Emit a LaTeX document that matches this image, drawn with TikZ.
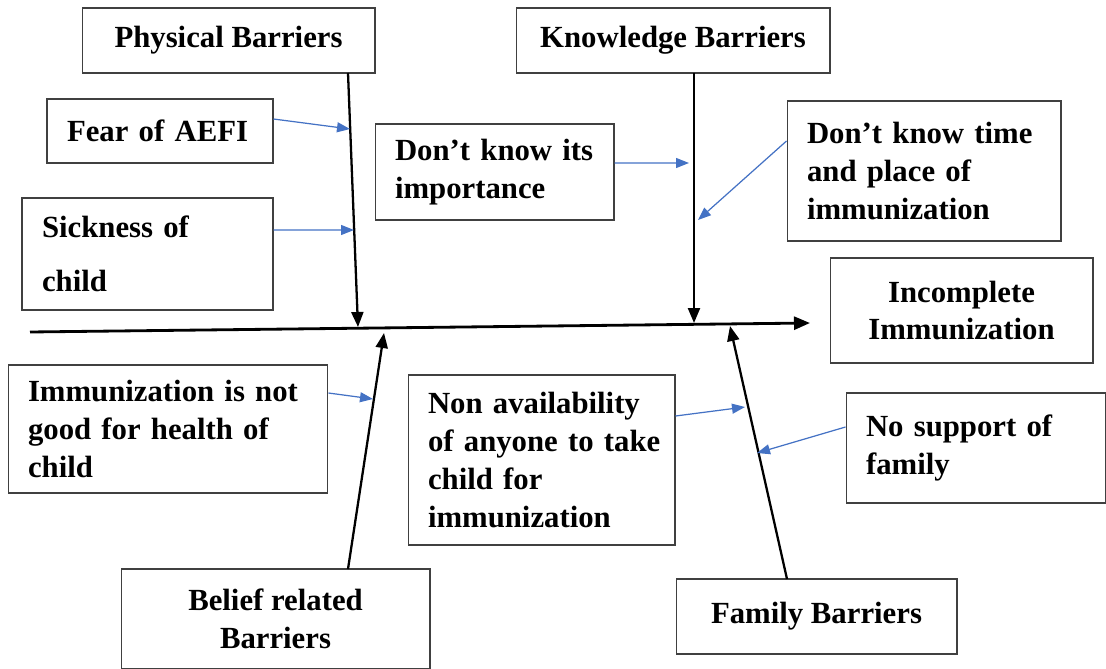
\documentclass[tikz,border=0pt]{standalone}
\usepackage{fontspec}
\setmainfont{Liberation Serif}
\usetikzlibrary{arrows.meta}
\definecolor{blueline}{RGB}{68,114,196}
\hyphenpenalty=10000

\begin{document}
\begin{tikzpicture}[x=0.02cm,y=-0.02cm,
 box/.style={draw=black!75,line width=0.6pt,inner xsep=0.4cm,inner ysep=0pt,
  font=\fontsize{17.5}{21.5}\selectfont\bfseries},
 bone/.style={line width=1.3pt,-{Triangle[length=0.3cm,width=0.24cm]}},
 feed/.style={blueline,line width=0.7pt,-{Triangle[length=0.26cm,width=0.2cm]}}]
\useasboundingbox (0,0) rectangle (1106,669);

% effect and main causes
\node[box,minimum width=5.26cm,minimum height=2.1cm,align=center] (inc) at (961.5,310.5) {Incomplete\\Immunization};
\node[box,minimum width=5.86cm,minimum height=1.3cm] (phys) at (228.5,40.5) {Physical Barriers};
\node[box,minimum width=6.28cm,minimum height=1.3cm] (know) at (673,40.5) {Knowledge Barriers};
\node[box,minimum width=6.18cm,minimum height=2cm,align=center] (belief) at (275.5,619) {Belief related\\Barriers};
\node[box,minimum width=5.62cm,minimum height=1.5cm] (fam) at (816.5,616.5) {Family Barriers};

% sub causes
\node[box,text width=3.72cm,minimum height=1.28cm,align=left] (fear) at (160,131) {Fear of AEFI};
\node[box,text width=4.22cm,minimum height=2.24cm,align=left] (sick) at (147.5,254) {Sickness of\\[0.32cm]child};
\node[box,text width=3.98cm,minimum height=1.92cm,align=left] (imp) at (494.5,172) {Don’t~know~its\\importance};
\node[box,text width=4.68cm,minimum height=2.8cm,align=left] (time) at (924,171) {Don’t~know~time\\and~place~of\\immunization};
\node[box,text width=5.6cm,minimum height=2.56cm,align=left] (good) at (168,429) {Immunization~is~not\\good~for~health~of\\child};
\node[box,text width=4.54cm,minimum height=3.4cm,align=left] (avail) at (541.5,460) {Non~availability\\\makebox[0pt][l]{of anyone to take}\\child~for\\immunization};
\node[box,text width=4.4cm,minimum height=2.2cm,align=left] (supp) at (976,448) {No~support~of\\family};

% spine
\coordinate (tail) at (30,332);
\coordinate (head) at (810,323);
\draw[line width=1.6pt,-{Triangle[length=0.32cm,width=0.26cm]}] (tail) -- (head);

% bones
\coordinate (p0) at (348,73);  \coordinate (p1) at (358,327);
\coordinate (k0) at (694,73);  \coordinate (k1) at (694,323);
\coordinate (b0) at (348,569); \coordinate (b1) at (384,333);
\coordinate (f0) at (787,579); \coordinate (f1) at (730,326);
\draw[bone] (p0) -- (p1);
\draw[bone] (k0) -- (k1);
\draw[bone] (b0) -- (b1);
\draw[bone] (f0) -- (f1);

% sub cause arrows
\coordinate (e1) at (350,129);
\coordinate (e2) at (354,230);
\coordinate (e3) at (689,163);
\coordinate (e4) at (698,220);
\coordinate (e5) at (373,399);
\coordinate (e6) at (745,407);
\coordinate (e7) at (757,453);
\draw[feed] ([yshift=0.24cm]fear.east) -- (e1);
\draw[feed] ([yshift=0.48cm]sick.east) -- (e2);
\draw[feed] ([yshift=0.18cm]imp.east) -- (e3);
\draw[feed] ([yshift=0.6cm]time.west) -- (e4);
\draw[feed] ([yshift=0.72cm]good.east) -- (e5);
\draw[feed] ([yshift=0.88cm]avail.east) -- (e6);
\draw[feed] ([yshift=0.42cm]supp.west) -- (e7);
\end{tikzpicture}
\end{document}
